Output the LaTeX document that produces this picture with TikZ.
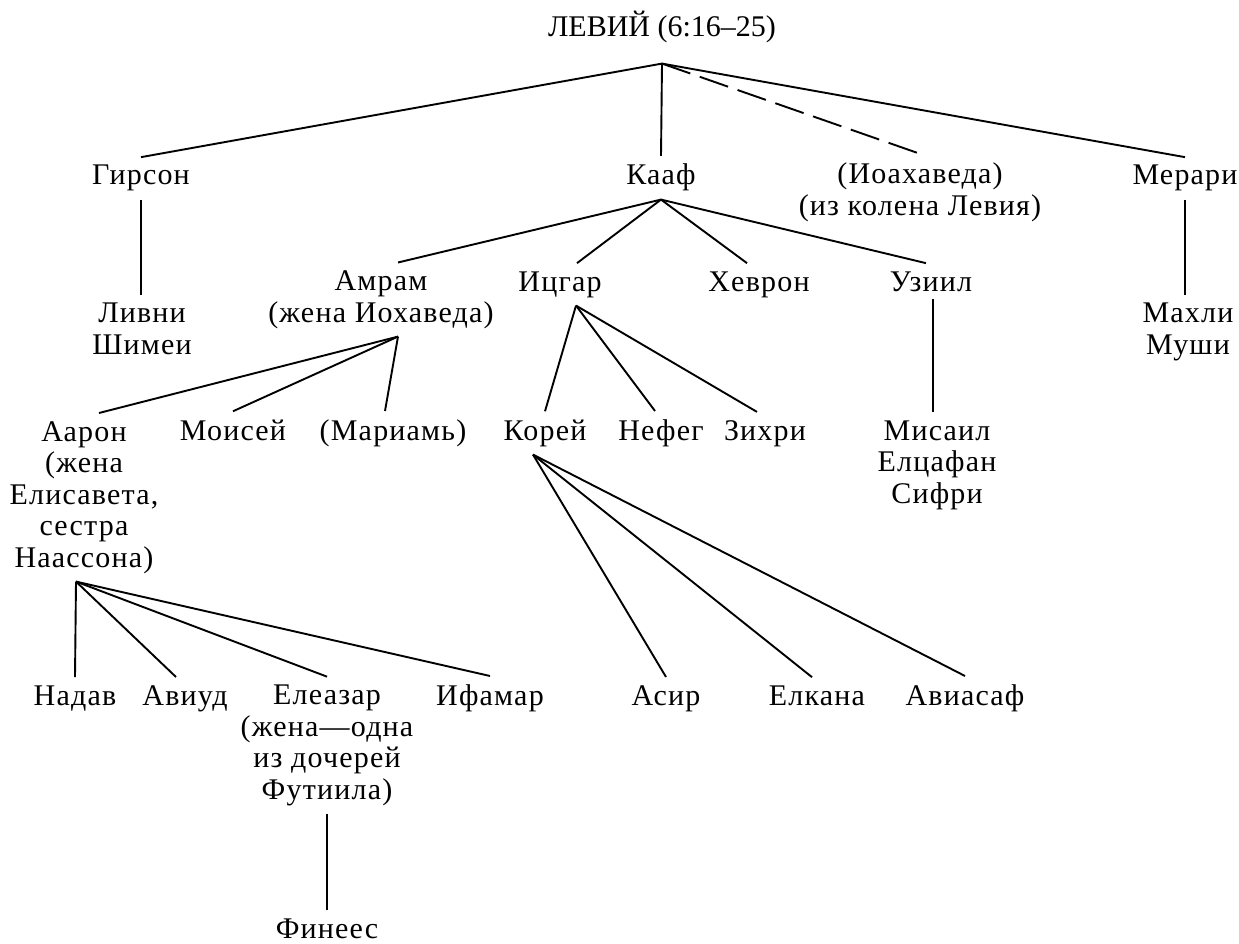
\documentclass[tikz,border=0pt]{standalone}
\usepackage{fontspec}
\setmainfont{Liberation Serif}
\newfontfamily\treefont{Liberation Serif}[LetterSpace=4]
\newfontfamily\titlefont{Liberation Serif}
\begin{document}
\begin{tikzpicture}[x=1pt, y=-1pt,
    person/.style={anchor=base, align=center, inner sep=8pt, font={\treefont\fontsize{30}{31.5}\selectfont}},
    kin/.style={line width=1.9pt},
    kinmaybe/.style={kin, dash pattern=on 30pt off 10pt}]
            \useasboundingbox (0,0) rectangle (1239,944);
            \node[person, font={\titlefont\fontsize{30}{31.5}\selectfont}] (levij) at (662,37) {ЛЕВИЙ (6:16–25)};
            \node[person] (girson) at (141,185) {Гирсон};
            \node[person] (kaaf) at (661,185) {Кааф};
            \node[person] (ioahaveda) at (920,215) {(Иоахаведа)\\(из колена Левия)};
            \node[person] (merari) at (1185,185) {Мерари};
            \node[person] (livni) at (142,354) {Ливни\\Шимеи};
            \node[person] (mahli) at (1188,354) {Махли\\Муши};
            \node[person] (amram) at (381,322) {Амрам\\(жена Иохаведа)};
            \node[person] (icgar) at (560,291) {Ицгар};
            \node[person] (hevron) at (759,291) {Хеврон};
            \node[person] (uziil) at (931,291) {Узиил};
            \node[person] (aaron) at (84,567) {Аарон\\(жена\\Елисавета,\\сестра\\Наассона)};
            \node[person] (moisej) at (233,440) {Моисей};
            \node[person] (mariam) at (393,440) {(Мариамь)};
            \node[person] (korej) at (545,440) {Корей};
            \node[person] (nefeg) at (661,440) {Нефег};
            \node[person] (zihri) at (765,440) {Зихри};
            \node[person] (misail) at (937,503) {Мисаил\\Елцафан\\Сифри};
            \node[person] (nadav) at (75,705) {Надав};
            \node[person] (aviud) at (185,705) {Авиуд};
            \node[person] (eleazar) at (327,799) {Елеазар\\(жена—одна\\из дочерей\\Футиила)};
            \node[person] (ifamar) at (490,705) {Ифамар};
            \node[person] (asir) at (666,705) {Асир};
            \node[person] (elkana) at (817,705) {Елкана};
            \node[person] (aviasaf) at (965,705) {Авиасаф};
            \node[person] (finees) at (327,938) {Финеес};
            \coordinate (levij-j) at ([yshift=-12pt]levij.south);
            \draw[kin] (girson.north) -- (levij-j) -- (merari.north);
            \draw[kin] (levij-j) -- (kaaf.north);
            \draw[kinmaybe] (levij-j) -- ([xshift=2pt]ioahaveda.north);
            \draw[kin] (girson.south) -- (girson.south |- livni.north);
            \draw[kin] (merari.south) -- (merari.south |- mahli.north);
            \draw[kin] (kaaf.south) -- ([xshift=17pt]amram.north);
            \draw[kin] (kaaf.south) -- ([xshift=17pt]icgar.north);
            \draw[kin] (kaaf.south) -- ([xshift=-12pt]hevron.north);
            \draw[kin] (kaaf.south) -- ([xshift=-5pt]uziil.north);
            \draw[kin] ([xshift=17pt]amram.south) -- ([xshift=15pt]aaron.north);
            \draw[kin] ([xshift=17pt]amram.south) -- (moisej.north);
            \draw[kin] ([xshift=17pt]amram.south) -- ([xshift=-8pt]mariam.north);
            \draw[kin] ([xshift=16pt]icgar.south) -- (korej.north);
            \draw[kin] ([xshift=16pt]icgar.south) -- ([xshift=-6pt]nefeg.north);
            \draw[kin] ([xshift=16pt]icgar.south) -- ([xshift=-8pt]zihri.north);
            \draw[kin] ([xshift=2pt]uziil.south) -- ([xshift=2pt]uziil.south |- misail.north);
            \draw[kin] ([xshift=-8pt]aaron.south) -- (nadav.north);
            \draw[kin] ([xshift=-8pt]aaron.south) -- ([xshift=-9pt]aviud.north);
            \draw[kin] ([xshift=-8pt]aaron.south) -- (eleazar.north);
            \draw[kin] ([xshift=-8pt]aaron.south) -- (ifamar.north);
            \draw[kin] ([xshift=-12pt]korej.south) -- (asir.north);
            \draw[kin] ([xshift=-12pt]korej.south) -- ([xshift=-5pt]elkana.north);
            \draw[kin] ([xshift=-12pt]korej.south) -- (aviasaf.north);
            \draw[kin] (eleazar.south) -- (eleazar.south |- finees.north);
        \end{tikzpicture}
\end{document}
